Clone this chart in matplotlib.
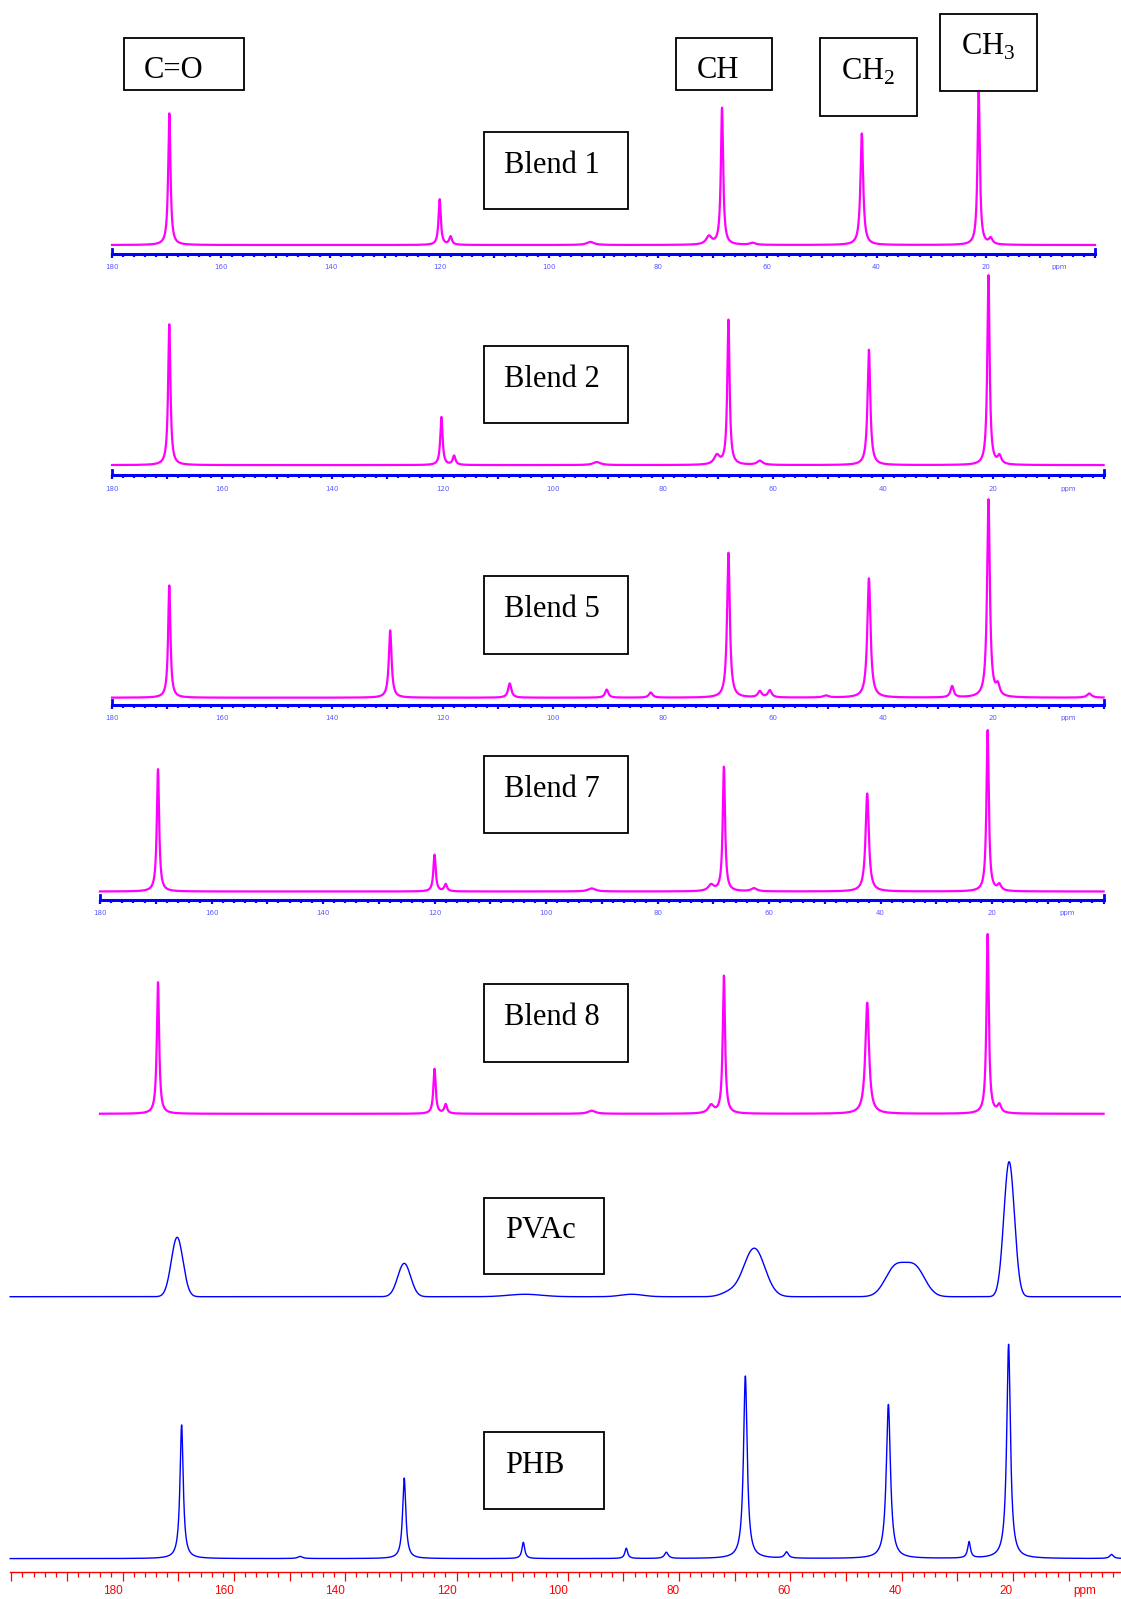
import numpy as np
import matplotlib
matplotlib.use('Agg')
import matplotlib.pyplot as plt
from matplotlib.ticker import MultipleLocator, FuncFormatter
from matplotlib.patches import Rectangle

W, H = 1121, 1599

plt.rcParams['font.family'] = 'Liberation Serif'
plt.rcParams['mathtext.fontset'] = 'custom'
plt.rcParams['mathtext.rm'] = 'Liberation Serif'

# peak tables: shift (ppm), relative height (tallest = 100), half width (ppm)
blend1_ppm = [169.5, 120.0, 118.0, 92.4, 70.7, 68.3, 62.7, 42.7, 21.3, 19.1]
blend1_int = [85.5, 29.6, 5.3, 2.0, 5.3, 88.8, 1.3, 72.4, 100, 3.9]
blend1_hw = [0.25, 0.25, 0.3, 0.8, 0.6, 0.25, 0.6, 0.3, 0.25, 0.4]

blend2_ppm = [169.6, 120.2, 117.9, 92.0, 70.2, 68.1, 62.4, 42.6, 20.9, 18.9]
blend2_int = [74.2, 25.3, 4.8, 1.6, 4.8, 76.3, 2.2, 60.8, 100, 4.3]
blend2_hw = [0.25, 0.25, 0.3, 0.8, 0.6, 0.25, 0.6, 0.3, 0.25, 0.4]

blend5_ppm = [169.6, 129.5, 107.8, 90.2, 82.2, 68.1, 62.4, 60.6, 50.4, 42.6,
              27.5, 20.9, 19.2, 2.6]
blend5_int = [56.7, 34.0, 7.2, 4.1, 2.6, 73.2, 3.1, 3.6, 1.0, 60.3,
              5.7, 100, 5.2, 2.1]
blend5_hw = [0.25, 0.3, 0.35, 0.35, 0.4, 0.3, 0.4, 0.4, 0.6, 0.35,
             0.35, 0.3, 0.4, 0.5]

blend7_ppm = [169.6, 120.0, 118.0, 91.8, 70.4, 68.1, 62.7, 42.4, 20.8, 18.7]
blend7_int = [75.9, 22.8, 4.4, 1.9, 3.8, 77.2, 1.9, 60.8, 100, 3.8]
blend7_hw = [0.25, 0.25, 0.3, 0.8, 0.6, 0.25, 0.6, 0.35, 0.25, 0.4]

blend8_ppm = [169.6, 120.0, 118.0, 91.8, 70.4, 68.1, 42.4, 20.8, 18.7]
blend8_int = [73.3, 25.0, 5.1, 1.7, 4.5, 76.7, 61.9, 100, 4.5]
blend8_hw = [0.25, 0.25, 0.3, 0.8, 0.6, 0.25, 0.4, 0.25, 0.4]

# PVAc lines are broad, gaussian sigma in ppm
pvac_ppm = [170.2, 129.4, 107.7, 88.5, 71.0, 66.5, 41.2, 37.6, 20.7]
pvac_int = [44.0, 24.7, 1.8, 1.8, 3.0, 35.9, 21.0, 21.0, 100]
pvac_sd = [1.05, 1.15, 3.0, 2.0, 1.5, 1.9, 1.8, 1.8, 0.95]

phb_ppm = [169.4, 148.1, 129.4, 108.0, 89.5, 82.3, 68.1, 60.7, 42.4, 27.9, 20.8, 2.3]
phb_int = [62.4, 1.0, 37.6, 7.6, 4.8, 2.9, 85.2, 2.9, 71.9, 7.6, 100, 1.9]
phb_hw = [0.35, 0.5, 0.35, 0.3, 0.3, 0.4, 0.4, 0.4, 0.45, 0.3, 0.4, 0.4]

tick_labels = [180, 160, 140, 120, 100, 80, 60, 40, 20]


def lorentz(x, pos, amp, hw):
    y = np.zeros_like(x)
    for c, a, w in zip(pos, amp, hw):
        y += a * w ** 2 / ((x - c) ** 2 + w ** 2)
    return y


def gauss(x, pos, amp, sd):
    y = np.zeros_like(x)
    for c, a, s in zip(pos, amp, sd):
        y += a * np.exp(-(x - c) ** 2 / (2 * s ** 2))
    return y


def panel(fig, x0, x1, ppm0, ppm1, y_base, y_top, y_axis=None):
    bottom = y_axis if y_axis else y_base
    ax = fig.add_axes([x0 / W, 1 - bottom / H, (x1 - x0) / W, (bottom - y_top) / H])
    per_px = 100.0 / (y_base - y_top)
    ax.set_xlim(ppm0, ppm1)
    ax.set_ylim(-(bottom - y_base) * per_px, 100)
    ax.patch.set_visible(False)
    for s in ax.spines.values():
        s.set_visible(False)
    ax.set_yticks([])
    ax.set_xticks([])
    return ax, per_px


def label_fmt(v, _):
    v = int(round(v))
    return str(v) if v in tick_labels else ''


def blue_axis(ax, per_px):
    ymin = ax.get_ylim()[0]
    sp = ax.spines['bottom']
    sp.set_visible(True)
    sp.set_color('#0000ff')
    sp.set_linewidth(2.2)
    for side in ('left', 'right'):
        ax.spines[side].set_visible(True)
        ax.spines[side].set_color('#0000ff')
        ax.spines[side].set_linewidth(2.0)
        ax.spines[side].set_bounds(ymin, ymin + 5 * per_px)
    ax.xaxis.set_major_locator(MultipleLocator(10))
    ax.xaxis.set_minor_locator(MultipleLocator(2))
    ax.xaxis.set_major_formatter(FuncFormatter(label_fmt))
    ax.tick_params(axis='x', which='major', direction='out', length=3.2, width=1.6,
                   color='#0000ff', labelsize=5, labelcolor='#5a5aff', pad=4.5)
    ax.tick_params(axis='x', which='minor', direction='out', length=2, width=1.6,
                   color='#0000ff')
    for t in ax.get_xticklabels():
        t.set_family('DejaVu Sans')
    ax.annotate('ppm', xy=(6.5, 0), xycoords=('data', 'axes fraction'),
                xytext=(0, -7.7), textcoords='offset points', ha='center', va='top',
                fontsize=5, color='#5a5aff', family='DejaVu Sans')


def red_axis(ax):
    sp = ax.spines['bottom']
    sp.set_visible(True)
    sp.set_color('#ff0000')
    sp.set_linewidth(1.0)
    ax.xaxis.set_major_locator(MultipleLocator(10))
    ax.xaxis.set_minor_locator(MultipleLocator(2))
    ax.xaxis.set_major_formatter(FuncFormatter(label_fmt))
    ax.tick_params(axis='x', which='major', direction='out', length=6.5, width=0.9,
                   color='#ff0000', labelsize=8.5, labelcolor='#ff0000', pad=3)
    ax.tick_params(axis='x', which='minor', direction='out', length=3.5, width=0.9,
                   color='#ff0000')
    for t in ax.get_xticklabels():
        t.set_family('Liberation Sans')
        t.set_horizontalalignment('right')
    ax.annotate('ppm', xy=(5.0, 0), xycoords=('data', 'axes fraction'),
                xytext=(0, -9.5), textcoords='offset points', ha='right', va='top',
                fontsize=8.5, color='#ff0000', family='Liberation Sans')


fig = plt.figure(figsize=(W / 100, H / 100), dpi=100)

magenta = '#ff00ff'
blue = '#0000ff'

# blend spectra, one panel each
blends = [
    (blend1_ppm, blend1_int, blend1_hw, 112, 1095, 245, 91, 253.5),
    (blend2_ppm, blend2_int, blend2_hw, 112, 1103.6, 465.1, 275.4, 475.3),
    (blend5_ppm, blend5_int, blend5_hw, 112, 1103.6, 697.7, 499.8, 704.8),
    (blend7_ppm, blend7_int, blend7_hw, 100, 1103.6, 891.5, 730.3, 899.6),
    (blend8_ppm, blend8_int, blend8_hw, 100, 1103.6, 1113.8, 934.3, None),
]
for pos, amp, hw, x0, x1, yb, yt, ya in blends:
    ax, per_px = panel(fig, x0, x1, 180, 0, yb, yt, ya)
    x = np.linspace(180, 0, 14000)
    ax.plot(x, lorentz(x, pos, amp, hw), color=magenta, lw=1.6, clip_on=False)
    if ya:
        blue_axis(ax, per_px)

# PVAc
ax, _ = panel(fig, 10.2, 1121, 200.2, 0.6, 1296.7, 1161.7)
x = np.linspace(200.2, 0.6, 14000)
ax.plot(x, gauss(x, pvac_ppm, pvac_int, pvac_sd), color=blue, lw=1.0, clip_on=False)

# PHB with the red ppm scale
ax, _ = panel(fig, 10.2, 1121, 200.2, 0.6, 1558.6, 1344.4, 1571.8)
ax.plot(x, lorentz(x, phb_ppm, phb_int, phb_hw), color=blue, lw=1.0, clip_on=False)
red_axis(ax)

# boxed captions drawn in pixel space
ov = fig.add_axes([0, 0, 1, 1], zorder=10)
ov.set_xlim(0, W)
ov.set_ylim(H, 0)
ov.axis('off')
ov.patch.set_visible(False)

captions = [
    ('C=O', 123.5, 38, 120.5, 52, 144, 78.5),
    ('CH', 676, 38.3, 96.3, 51.7, 697, 78.5),
    ('CH$_\\mathregular{2}$', 820, 38.3, 96.7, 77.7, 841, 80),
    ('CH$_\\mathregular{3}$', 940, 14.3, 96.7, 76.7, 961, 55),
    ('Blend 1', 484, 131.7, 144.3, 77.3, 504, 172.7),
    ('Blend 2', 484, 345.8, 144.3, 77.3, 504, 386.8),
    ('Blend 5', 484, 576.3, 144.3, 77.3, 504, 617.3),
    ('Blend 7', 484, 755.8, 144.3, 77.3, 504, 796.8),
    ('Blend 8', 484, 984.3, 144.3, 77.3, 504, 1025.3),
    ('PVAc', 484, 1197.5, 120.4, 76.8, 505, 1238.5),
    ('PHB', 484, 1432.1, 120.4, 76.8, 505, 1473),
]
for txt, bx, by, bw, bh, tx, ty in captions:
    ov.add_patch(Rectangle((bx, by), bw, bh, fill=False, ec='black', lw=1.3))
    ov.text(tx, ty, txt, fontsize=22, ha='left', va='baseline', color='black')

fig.savefig('out.png', dpi=100)
